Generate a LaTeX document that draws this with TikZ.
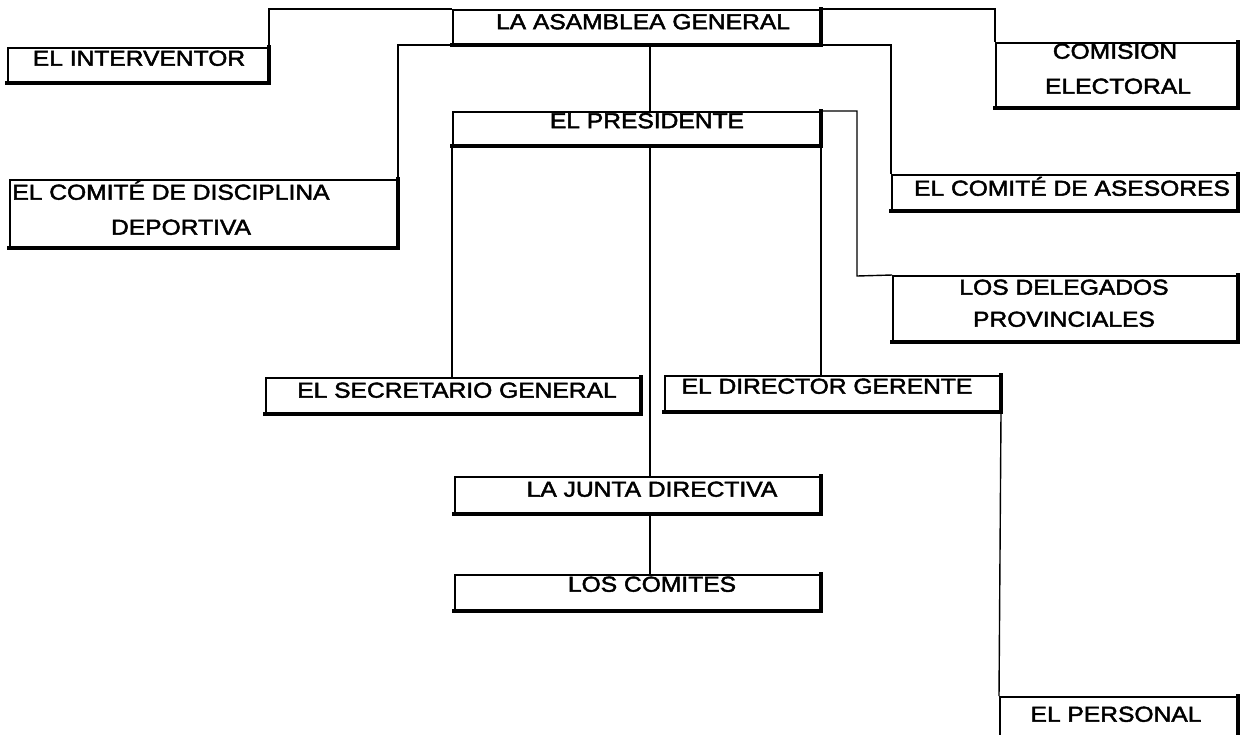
\documentclass[tikz,border=0pt]{standalone}
\usepackage{fontspec}
\setmainfont{Liberation Sans}
\newfontfamily\scanfont{Liberation Sans}[FakeBold=2]
\usetikzlibrary{fit}
\newcommand{\sq}[1]{\scalebox{1}[0.88]{#1}}
\begin{document}
\begin{tikzpicture}[x=0.5pt,y=-0.5pt,
  box/.style={draw, line width=1pt, inner sep=0pt},
  lbl/.style={inner sep=0pt, anchor=center, text height=7.7pt, text depth=0pt,
              font=\scanfont\fontsize{12.3}{14}\selectfont},
  link/.style={line width=0.7pt},
  heavybot/.style={line width=2.2pt, line cap=rect},
  heavyright/.style={line width=1.6pt, line cap=rect}]
\useasboundingbox (0,0) rectangle (1240,734);
\clip (0,0) rectangle (1240,734);
\fill[white] (0,0) rectangle (1240,734);

% boxes
\node[box, fit={(453,10) (820,44)}]   (asam)   {};
\node[box, fit={(8,48) (268,82)}]     (interv) {};
\node[box, fit={(996,43) (1237,107)}] (comis)  {};
\node[box, fit={(453,112) (820,145)}] (pres)   {};
\node[box, fit={(10,180) (397,247)}]  (disc)   {};
\node[box, fit={(892,175) (1237,210)}] (ases)  {};
\node[box, fit={(893,276) (1237,341)}] (deleg) {};
\node[box, fit={(266,378) (640,413)}] (secr)   {};
\node[box, fit={(665,376) (1000,411)}] (dir)   {};
\node[box, fit={(455,477) (820,513)}] (junta)  {};
\node[box, fit={(455,575) (820,610)}] (comit)  {};
\node[box, fit={(1000,697) (1237,760)}] (pers) {};

\foreach \n in {asam,interv,comis,pres,disc,ases,deleg,secr,dir,junta,comit,pers}{
  \draw[heavybot] (\n.south west) -- (\n.south east);
  \draw[heavyright] (\n.south east) -- (\n.north east);
}

% labels
\node[lbl] (tasam)   at (643,21.5) {\sq{LA ASAMBLEA GENERAL}};
\node[lbl] (tinterv) at (139,58)   {\sq{EL INTERVENTOR}};
\node[lbl] (tcomis1) at (1115,51)  {\sq{COMISION}};
\node[lbl] (tcomis2) at (1118,86)  {\sq{ELECTORAL}};
\node[lbl] (tpres)   at (647,120.5) {\sq{EL PRESIDENTE}};
\node[lbl, anchor=west] (tdisc1) at (12,192) {\sq{EL COMITÉ DE DISCIPLINA}};
\node[lbl] (tdisc2)  at (181,227)  {\sq{DEPORTIVA}};
\node[lbl] (tases)   at (1072,188) {\sq{EL COMITÉ DE ASESORES}};
\node[lbl] (tdeleg1) at (1064,287) {\sq{LOS DELEGADOS}};
\node[lbl] (tdeleg2) at (1064,319) {\sq{PROVINCIALES}};
\node[lbl] (tsecr)   at (457,390)  {\sq{EL SECRETARIO GENERAL}};
\node[lbl] (tdir)    at (827,386)  {\sq{EL DIRECTOR GERENTE}};
\node[lbl] (tjunta)  at (652,489)  {\sq{LA JUNTA DIRECTIVA}};
\node[lbl] (tcomit)  at (652,584)  {\sq{LOS COMITES}};
\node[lbl] (tpers)   at (1116,714) {\sq{EL PERSONAL}};

% connectors
\coordinate (mid) at (650,0);
\coordinate (delbend) at (857,276);
\draw[link] (interv.north east) |- (asam.north west);
\draw[link] (disc.north east) |- (asam.south west);
\draw[link] (asam.north east) -| (comis.north west);
\draw[link] (asam.south east) -| (ases.north west);
\draw[link] (pres.north east) -| (delbend) -- (deleg.north west);
\draw[link] (mid |- asam.south) -- (mid |- pres.north);
\draw[link] (mid |- pres.south) -- (mid |- junta.north);
\draw[link] (mid |- junta.south) -- (mid |- comit.north);
\draw[link] (pres.south west) -- (pres.south west |- secr.north);
\draw[link] (pres.south east) -- (pres.south east |- dir.north);
\draw[link] (dir.south east) -- (pers.north west);
\end{tikzpicture}
\end{document}
